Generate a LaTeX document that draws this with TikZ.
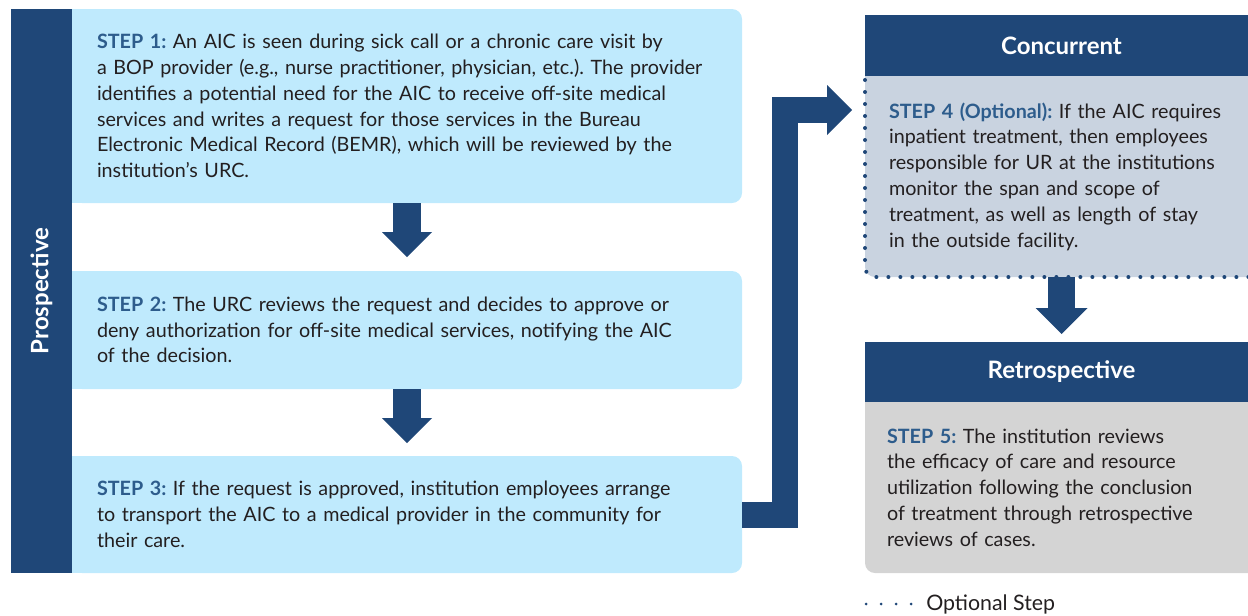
\documentclass[tikz,border=0pt]{standalone}
\usepackage{fontspec}
\setmainfont{Lato}
\usepackage{xcolor}
\usetikzlibrary{arrows.meta,positioning}
\definecolor{navy}{HTML}{1F4778}
\definecolor{stepblue}{HTML}{BFEAFD}
\definecolor{optgray}{HTML}{C9D3E0}
\definecolor{retrogray}{HTML}{D4D4D4}
\definecolor{labelblue}{HTML}{2D5C8C}
\definecolor{bodytext}{HTML}{231F20}
\newcommand{\steplabel}[1]{\textbf{\color{labelblue}#1}}
\frenchspacing

\tikzset{
    stepbox/.style={rectangle, rounded corners=7.5pt, fill=stepblue, outer sep=0pt,
        minimum width=502.5pt, text width=465pt, inner xsep=18.75pt, align=left,
        font=\fontsize{14.8}{19.35}\selectfont, text=bodytext},
    sidebox/.style={stepbox, minimum width=294.75pt, text width=258.75pt, inner xsep=18pt},
    header/.style={rectangle, fill=navy, text=white, outer sep=0pt, inner sep=0pt,
        font=\fontsize{18}{21}\selectfont\bfseries, minimum width=294.75pt, minimum height=45.75pt},
    blockarrow/.style={draw=navy, line width=21pt,
        -{Triangle[width=37.5pt, length=18.75pt, line width=0pt]}},
    optline/.style={draw=navy, line width=3pt, line cap=round, dash pattern=on 0pt off 9pt},
}

\begin{document}
\begin{tikzpicture}[x=0.75pt, y=-0.75pt]
    \clip (0,0) rectangle (1248,615);

    \node[stepbox, minimum height=145.5pt, anchor=north west] (step1) at (72,9) {\steplabel{STEP 1:} An AIC is seen during sick call or a chronic care visit by\\
        a BOP provider (e.g., nurse practitioner, physician, etc.). The provider\\
        identifies a potential need for the AIC to receive off-site medical\\
        services and writes a request for those services in the Bureau\\
        Electronic Medical Record (BEMR), which will be reviewed by the\\
        institution’s URC.};
    \node[stepbox, minimum height=88.5pt, below=51pt of step1] (step2) {\steplabel{STEP 2:} The URC reviews the request and decides to approve or\\
        deny authorization for off-site medical services, notifying the AIC\\
        of the decision.};
    \node[stepbox, minimum height=87.75pt, below=50.25pt of step2] (step3) {\steplabel{STEP 3:} If the request is approved, institution employees arrange\\
        to transport the AIC to a medical provider in the community for\\
        their care.};
    \foreach \b in {step1,step2,step3}
        \fill[stepblue] (\b.north west) rectangle ([xshift=12pt]\b.south west);
    \node[header, rotate=90, minimum width=423pt] (prosp) at (41.5,291) {Prospective};

    \node[header, anchor=north west] (concurrent) at (865,15) {Concurrent};
    \node[sidebox, fill=optgray, minimum height=150.75pt, below=0pt of concurrent] (step4) {\steplabel{STEP 4 (Optional):} If the AIC requires\\
        inpatient treatment, then employees\\
        responsible for UR at the institutions\\
        monitor the span and scope of\\
        treatment, as well as length of stay\\
        in the outside facility.};
    \fill[optgray] (step4.north west) rectangle ([xshift=12pt,yshift=-12pt]step4.north west);
    \draw[optline, rounded corners=7.5pt] ([yshift=-3pt]step4.north west) -- (step4.south west) -- (step4.south east);

    \node[header, minimum height=45pt, below=48.75pt of step4] (retro) {Retrospective};
    \node[sidebox, fill=retrogray, minimum height=128.25pt, inner xsep=16.5pt, text width=261.75pt, below=0pt of retro] (step5) {\steplabel{STEP 5:} The institution reviews\\
        the efficacy of care and resource\\
        utilization following the conclusion\\
        of treatment through retrospective\\
        reviews of cases.};
    \fill[retrogray] (step5.north west) rectangle ([xshift=12pt,yshift=-12pt]step5.north west);

    \draw[blockarrow, shorten >=10.5pt] (step1.south) -- (step2.north);
    \draw[blockarrow, shorten >=9.75pt] (step2.south) -- (step3.north);
    \draw[blockarrow, line width=20.25pt, -{Triangle[width=39pt, length=19.5pt, line width=0pt]}, shorten >=6pt] (step4.south) -- (retro.north);
    \coordinate (elbow) at (785,110);
    \draw[blockarrow, line width=19.5pt, line join=miter, shorten >=9.75pt] (step3.east) -| (elbow) -- (elbow -| step4.west);

    \node[anchor=west, inner sep=0pt, text=bodytext, font=\fontsize{16}{19}\selectfont] (legend) at (926,604) {Optional Step};
    \coordinate (legstart) at (866,604);
    \draw[optline, line width=2.25pt, dash pattern=on 0pt off 11.25pt] (legstart) -- ([xshift=-9.75pt]legend.west);
\end{tikzpicture}
\end{document}
